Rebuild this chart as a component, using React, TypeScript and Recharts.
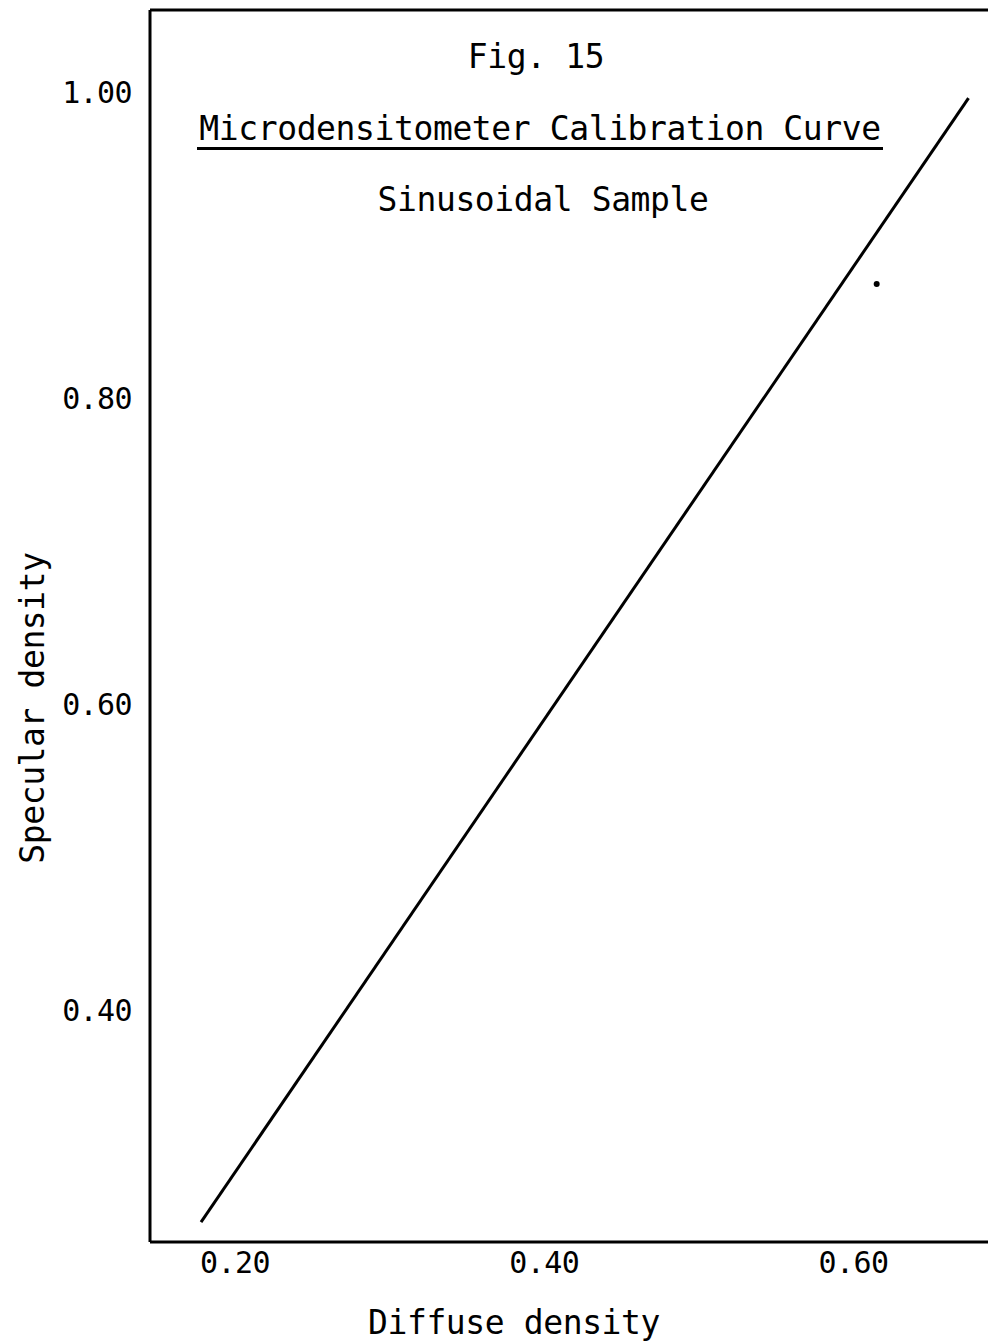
import React from "react";
import {
  ComposedChart,
  Line,
  Scatter,
  XAxis,
  YAxis,
  ReferenceLine,
} from "recharts";

// Calibration line end points (diffuse density -> specular density)
const lineX = [0.178, 0.6744];
const lineY = [0.2614, 0.996];
// Isolated point
const pointX = [0.615];
const pointY = [0.8745];

const xTicks = [0.2, 0.4, 0.6];
const yTicks = [0.4, 0.6, 0.8, 1.0];
const xDomain = [0.145, 0.687];
const yDomain = [0.2484, 1.0536];

const titleFig = "Fig. 15";
const titleMain = "Microdensitometer Calibration Curve";
const titleSub = "Sinusoidal Sample";
const xLabel = "Diffuse density";
const yLabel = "Specular density";

const lineData = lineX.map((x, i) => ({ x, y: lineY[i] }));
const pointData = pointX.map((x, i) => ({ x, y: pointY[i] }));

const FONT = "'DejaVu Sans Mono', 'Liberation Mono', monospace";

const textStyle = (x: number, y: number, size = 33): React.CSSProperties => ({
  position: "absolute",
  left: x,
  top: y,
  transform: "translate(-50%, -50%)",
  fontFamily: FONT,
  fontSize: size,
  letterSpacing: -0.4,
  whiteSpace: "nowrap",
  color: "#000",
  lineHeight: 1,
});

const tickStyle = {
  fill: "#000",
  fontSize: 30,
  fontFamily: FONT,
  letterSpacing: -0.6,
};

export default function App() {
  return (
    <div
      style={{
        position: "fixed",
        left: 0,
        top: 0,
        width: 988,
        height: 1342,
        background: "#fff",
      }}
    >
      <ComposedChart
        width={988}
        height={1342}
        margin={{ top: 10, right: 0, left: 0, bottom: 0 }}
      >
        <XAxis
          type="number"
          dataKey="x"
          domain={xDomain}
          ticks={xTicks}
          allowDataOverflow
          height={100}
          tickLine={false}
          tickSize={0}
          tickMargin={10}
          tickFormatter={(v: number) => v.toFixed(2)}
          tick={tickStyle}
          axisLine={{ stroke: "#000", strokeWidth: 3 }}
        />
        <YAxis
          type="number"
          dataKey="y"
          domain={yDomain}
          ticks={yTicks}
          allowDataOverflow
          width={150}
          tickLine={false}
          tickSize={0}
          tickMargin={18}
          tickFormatter={(v: number) => v.toFixed(2)}
          tick={tickStyle}
          axisLine={{ stroke: "#000", strokeWidth: 3 }}
        />
        <ReferenceLine y={yDomain[1]} stroke="#000" strokeWidth={3} />
        <Line
          data={lineData}
          dataKey="y"
          type="linear"
          stroke="#000"
          strokeWidth={3}
          dot={false}
          activeDot={false}
          isAnimationActive={false}
        />
        <Scatter
          data={pointData}
          dataKey="y"
          fill="#000"
          isAnimationActive={false}
          shape={(p: any) => <circle cx={p.cx} cy={p.cy} r={3} fill="#000" />}
        />
      </ComposedChart>

      <div style={textStyle(536, 56)}>{titleFig}</div>
      <div style={textStyle(540, 128)}>{titleMain}</div>
      <div
        style={{
          position: "absolute",
          left: 197,
          top: 147,
          width: 686,
          height: 0,
          borderTop: "3px solid #000",
        }}
      />
      <div style={textStyle(543, 199)}>{titleSub}</div>
      <div style={textStyle(514, 1322)}>{xLabel}</div>
      <div
        style={{
          ...textStyle(32, 708),
          transform: "translate(-50%, -50%) rotate(-90deg)",
        }}
      >
        {yLabel}
      </div>
    </div>
  );
}
